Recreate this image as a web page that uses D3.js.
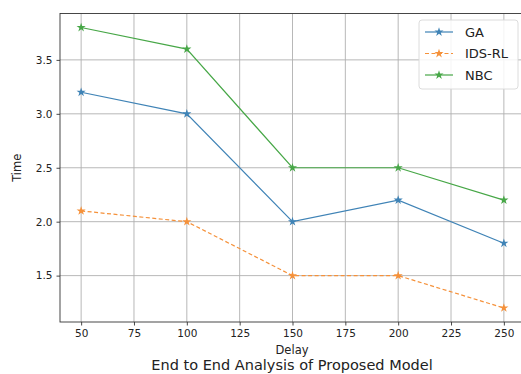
<!DOCTYPE html>
<html lang="en">
<head>
<meta charset="UTF-8">
<title>End to End Analysis</title>
<script src="https://cdn.jsdelivr.net/npm/d3@7"></script>
<style>
    body { margin: 0; background: #fff; }
    svg text { font-family: "DejaVu Sans", sans-serif; fill: #222; }
    .grid line { stroke: #b0b0b0; stroke-width: 0.9; }
    .axis path, .axis line { stroke: #333; stroke-width: 0.9; }
    .axis text { font-size: 10.5px; }
</style>
</head>
<body>
<script>
    var delays = [50, 100, 150, 200, 250];
    var xTicks = [50, 75, 100, 125, 150, 175, 200, 225, 250];
    var yTicks = [1.5, 2.0, 2.5, 3.0, 3.5];
    var seriesNames = ["GA", "IDS-RL", "NBC"];
    var gaTime = [3.2, 3.0, 2.0, 2.2, 1.8];
    var idsRlTime = [2.1, 2.0, 1.5, 1.5, 1.2];
    var nbcTime = [3.8, 3.6, 2.5, 2.5, 2.2];
    var colors = ["#3f83b6", "#f5913a", "#47a747"];

    var series = [
        { name: seriesNames[0], values: gaTime, color: colors[0], dash: null },
        { name: seriesNames[1], values: idsRlTime, color: colors[1], dash: "4,2.5" },
        { name: seriesNames[2], values: nbcTime, color: colors[2], dash: null }
    ];

    var width = 521, height = 374;
    // plot area edges (right edge sits just past the window, as in the source)
    var pLeft = 60, pRight = 525, pTop = 13.5, pBottom = 322;

    var svg = d3.select("body").append("svg").attr("width", width).attr("height", height);

    var x = d3.scaleLinear().domain([40, 260]).range([pLeft, pRight]);
    var y = d3.scaleLinear().domain([1.07, 3.93]).range([pBottom, pTop]);

    // grid
    var grid = svg.append("g").attr("class", "grid");
    grid.selectAll("line.v").data(xTicks).enter().append("line")
        .attr("x1", function(d){ return x(d); }).attr("x2", function(d){ return x(d); })
        .attr("y1", pTop).attr("y2", pBottom);
    grid.selectAll("line.h").data(yTicks).enter().append("line")
        .attr("y1", function(d){ return y(d); }).attr("y2", function(d){ return y(d); })
        .attr("x1", pLeft).attr("x2", pRight);

    // frame
    svg.append("rect").attr("x", pLeft).attr("y", pTop)
        .attr("width", pRight - pLeft).attr("height", pBottom - pTop)
        .attr("fill", "none").attr("stroke", "#333").attr("stroke-width", 0.9);

    svg.append("g").attr("class", "axis")
        .attr("transform", "translate(0," + pBottom + ")")
        .call(d3.axisBottom(x).tickValues(xTicks).tickSize(3.5).tickPadding(4).tickFormat(d3.format("d")))
        .call(function(g){ g.select(".domain").remove(); });

    svg.append("g").attr("class", "axis")
        .attr("transform", "translate(" + pLeft + ",0)")
        .call(d3.axisLeft(y).tickValues(yTicks).tickSize(3.5).tickPadding(4).tickFormat(d3.format(".1f")))
        .call(function(g){ g.select(".domain").remove(); });

    // lines
    var line = d3.line()
        .x(function(d, i){ return x(delays[i]); })
        .y(function(d){ return y(d); });

    var star = d3.symbol().type(d3.symbolStar).size(26);

    series.forEach(function(s){
        svg.append("path").datum(s.values)
            .attr("d", line)
            .attr("fill", "none")
            .attr("stroke", s.color)
            .attr("stroke-width", 1.2)
            .attr("stroke-dasharray", s.dash);
        svg.append("g").selectAll("path").data(s.values).enter().append("path")
            .attr("d", star)
            .attr("transform", function(d, i){ return "translate(" + x(delays[i]) + "," + y(d) + ")"; })
            .attr("fill", s.color);
    });

    // legend
    var lg = svg.append("g").attr("transform", "translate(419,20)");
    lg.append("rect").attr("width", 99).attr("height", 69).attr("rx", 3)
        .attr("fill", "#fff").attr("fill-opacity", 0.85)
        .attr("stroke", "#d8d8d8").attr("stroke-width", 0.9);
    series.forEach(function(s, i){
        var ly = 12 + i * 21.5;
        lg.append("line").attr("x1", 6).attr("x2", 34).attr("y1", ly).attr("y2", ly)
            .attr("stroke", s.color).attr("stroke-width", 1.2).attr("stroke-dasharray", s.dash);
        lg.append("path").attr("d", star).attr("transform", "translate(20," + ly + ")").attr("fill", s.color);
        lg.append("text").attr("x", 46).attr("y", ly).attr("dy", "0.35em")
            .style("font-size", "13px").text(s.name);
    });

    // labels
    svg.append("text").attr("x", 292).attr("y", 354)
        .attr("text-anchor", "middle").style("font-size", "11.5px").text("Delay");
    svg.append("text").attr("transform", "translate(21," + ((pTop + pBottom) / 2) + ") rotate(-90)")
        .attr("text-anchor", "middle").style("font-size", "11.5px").text("Time");
    svg.append("text").attr("x", 292).attr("y", 370)
        .attr("text-anchor", "middle").style("font-size", "14.5px").text("End to End Analysis of Proposed Model");
</script>
</body>
</html>
